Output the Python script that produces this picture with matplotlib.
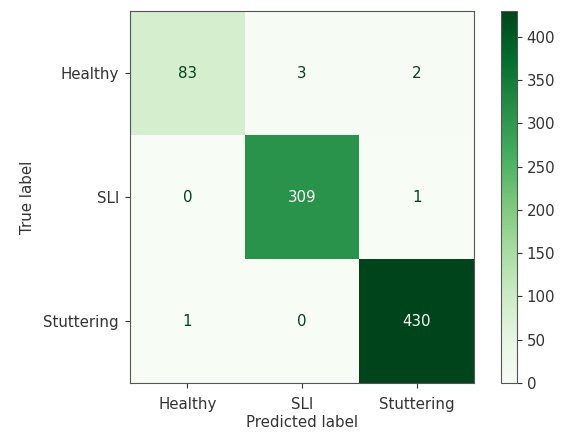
import numpy as np
import matplotlib
matplotlib.use("Agg")
import matplotlib.pyplot as plt

labels = ["Healthy", "SLI", "Stuttering"]
cm = np.array([
    [83, 3, 2],
    [0, 309, 1],
    [1, 0, 430],
])
cbar_ticks = [0, 50, 100, 150, 200, 250, 300, 350, 400]

plt.rcParams["font.size"] = 10.8
plt.rcParams["axes.edgecolor"] = "#555555"
plt.rcParams["xtick.color"] = "#333333"
plt.rcParams["ytick.color"] = "#333333"
plt.rcParams["text.color"] = "#333333"
plt.rcParams["axes.labelcolor"] = "#333333"

W, H = 565, 434
fig = plt.figure(figsize=(W / 100, H / 100), dpi=100)
ax = fig.add_axes([130 / W, 1 - 383 / H, 344 / W, 372 / H])
cax = fig.add_axes([501 / W, 1 - 383 / H, 16 / W, 372 / H])

cmap = plt.get_cmap("Greens")
im = ax.imshow(cm, cmap=cmap, interpolation="nearest", aspect="auto")

thresh = (cm.max() + cm.min()) / 2.0
for i in range(cm.shape[0]):
    for j in range(cm.shape[1]):
        color = cmap(0) if cm[i, j] > thresh else cmap(256)
        ax.text(j, i, str(cm[i, j]), ha="center", va="center", color=color)

ax.set_xticks(range(len(labels)))
ax.set_xticklabels(labels)
ax.set_yticks(range(len(labels)))
ax.set_yticklabels(labels)
ax.tick_params(axis="x", pad=6.5)
ax.tick_params(axis="y", pad=4.5)
ax.set_xlabel("Predicted label", labelpad=2)
ax.set_ylabel("True label", labelpad=6)

cb = fig.colorbar(im, cax=cax)
cb.set_ticks(cbar_ticks)
cb.outline.set_edgecolor("#555555")

fig.savefig("out.png", dpi=100)
